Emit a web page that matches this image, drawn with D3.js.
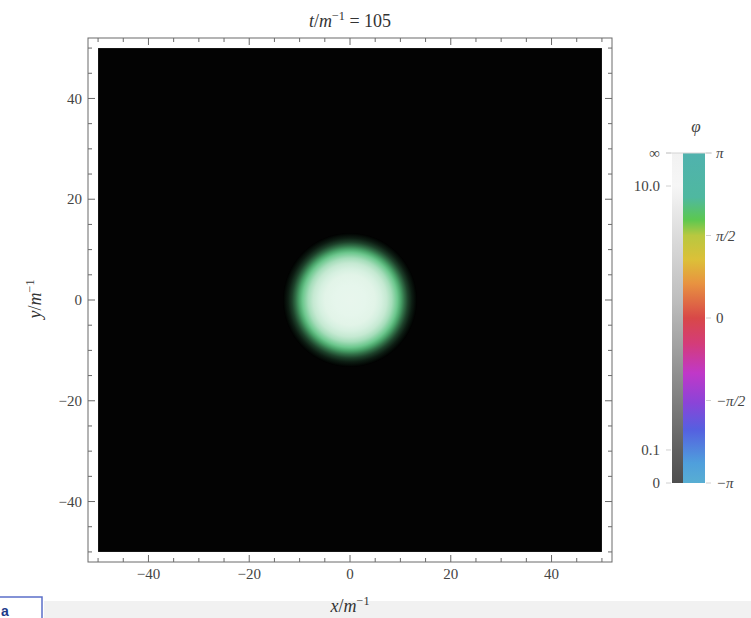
<!DOCTYPE html>
<html>
<head>
<meta charset="utf-8">
<script src="https://cdn.jsdelivr.net/npm/d3@7"></script>
<style>
  body { margin: 0; background: #fff; }
  svg { display: block; font-family: "Liberation Serif", "Times New Roman", serif; }
</style>
</head>
<body>
<svg id="chart" width="751" height="618"></svg>
<script>
// ---- data ----
const timeValue = 105;
const majorTicks = [-40, -20, 0, 20, 40];
const minorTicks = [-50, -45, -35, -30, -25, -15, -10, -5, 5, 10, 15, 25, 30, 35, 45, 50];

// radial profile of |φ| of the lump centred at the origin
const blobCenter = [0, 0];
const profileRadius = [0, 3, 5, 6.2, 7.3, 8.3, 9.4, 10.1, 10.8, 11.5, 12.3, 13.3];
const profileAmplitude = [16, 15, 12, 8, 5, 2.8, 1.3, 0.75, 0.41, 0.2, 0.07, 0];
const blobPhase = 2.1;

// phase colour wheel (arg φ)
const phaseStops = [-Math.PI, -2.76, -2.13, -1.62, -1.05, -0.48, 0, 0.67, 1.11, 1.57, 1.87, 2.3, Math.PI];
const phaseColors = ["#58aed2", "#4f9fdc", "#5560e0", "#8a44d8", "#c038c8", "#d43c78", "#d84848",
                     "#e89440", "#dcc038", "#b8c840", "#5cc850", "#4fb8a0", "#50b2ae"];
const phaseTickValues = [Math.PI, Math.PI / 2, 0, -Math.PI / 2, -Math.PI];
const phaseTickLabels = ["π", "π/2", "0", "−π/2", "−π"];

// magnitude legend
const magnitudeTickValues = [Infinity, 10, 0.1, 0];
const magnitudeTickLabels = ["∞", "10.0", "0.1", "0"];
const grayLevels = [0, 0.1, 0.3, 0.55, 0.8, 0.9, 1];
const grayColors = ["#4e4e4e", "#606060", "#8a8a8a", "#bdbdbd", "#e4e4e4", "#f6f6f6", "#f2f2f2"];

// ---- scales ----
const svg = d3.select("#chart");
const x = d3.scaleLinear().domain([-52, 52]).range([88, 612]);
const y = d3.scaleLinear().domain([-52, 52]).range([562, 38]);

const magT = a => a === Infinity ? 1 : (2 / Math.PI) * Math.atan(Math.pow(a, 0.8));
const phaseColor = d3.scaleLinear().domain(phaseStops).range(phaseColors).interpolate(d3.interpolateRgb);
const grayScale = d3.scaleLinear().domain(grayLevels).range(grayColors);
function fieldColor(amp, phase) {
  const t = magT(amp), hue = phaseColor(phase);
  return t < 0.5 ? d3.interpolateRgb("#000", hue)(t / 0.5)
                 : d3.interpolateRgb(hue, "#fff")((t - 0.5) / 0.5);
}

// ---- background strip and box at the bottom ----
svg.append("rect").attr("x", 44).attr("y", 601).attr("width", 707).attr("height", 17).attr("fill", "#f1f1f1");
svg.append("rect").attr("x", -2).attr("y", 597).attr("width", 44).attr("height", 30)
  .attr("fill", "#fff").attr("stroke", "#5b6fc9").attr("stroke-width", 1.5);
svg.append("text").attr("x", 1).attr("y", 616).attr("font-size", 14).attr("font-weight", "bold")
  .attr("fill", "#1d3a8a").attr("font-family", "Liberation Sans, sans-serif").text("a");

// ---- plot area ----
const defs = svg.append("defs");
svg.append("rect")
  .attr("x", x(-50)).attr("y", y(50))
  .attr("width", x(50) - x(-50)).attr("height", y(-50) - y(50))
  .attr("fill", "#030303");

const rMax = d3.max(profileRadius);
const grad = defs.append("radialGradient").attr("id", "blob");
grad.selectAll("stop").data(profileRadius).join("stop")
  .attr("offset", r => r / rMax)
  .attr("stop-color", (r, i) => fieldColor(profileAmplitude[i], blobPhase));
svg.append("circle")
  .attr("cx", x(blobCenter[0])).attr("cy", y(blobCenter[1]))
  .attr("r", x(rMax) - x(0))
  .attr("fill", "url(#blob)");

// frame
svg.append("rect").attr("x", x(-52)).attr("y", y(52))
  .attr("width", x(52) - x(-52)).attr("height", y(-52) - y(52))
  .attr("fill", "none").attr("stroke", "#6a6a6a").attr("stroke-width", 1);

// ticks on all four sides, pointing inward
const tickColor = "#6a6a6a";
function sideTicks(vals, len) {
  const g = svg.append("g").attr("stroke", tickColor).attr("stroke-width", 1);
  vals.forEach(v => {
    g.append("line").attr("x1", x(v)).attr("x2", x(v)).attr("y1", y(-52)).attr("y2", y(-52) - len);
    g.append("line").attr("x1", x(v)).attr("x2", x(v)).attr("y1", y(52)).attr("y2", y(52) + len);
    g.append("line").attr("y1", y(v)).attr("y2", y(v)).attr("x1", x(-52)).attr("x2", x(-52) + len);
    g.append("line").attr("y1", y(v)).attr("y2", y(v)).attr("x1", x(52)).attr("x2", x(52) - len);
  });
}
sideTicks(majorTicks, 7);
sideTicks(minorTicks, 4);

const fmt = d3.format("d");
svg.append("g").selectAll("text").data(majorTicks).join("text")
  .attr("x", d => x(d)).attr("y", 579).attr("text-anchor", "middle")
  .attr("font-size", 15).attr("fill", "#444").text(d => fmt(d));
svg.append("g").selectAll("text").data(majorTicks).join("text")
  .attr("x", 82).attr("y", d => y(d)).attr("dy", "0.35em").attr("text-anchor", "end")
  .attr("font-size", 15).attr("fill", "#444").text(d => fmt(d));

// axis titles
function unitLabel(sel, varName) {
  sel.append("tspan").attr("font-style", "italic").text(varName);
  sel.append("tspan").text("/");
  sel.append("tspan").attr("font-style", "italic").text("m");
  sel.append("tspan").attr("font-size", "0.68em").attr("dy", "-0.55em").text("−1");
}
const title = svg.append("text").attr("x", 350).attr("y", 27).attr("text-anchor", "middle")
  .attr("font-size", 18).attr("fill", "#333");
unitLabel(title, "t");
title.append("tspan").attr("dy", "0.37em").text(" = " + timeValue);

const xl = svg.append("text").attr("x", 350).attr("y", 612).attr("text-anchor", "middle")
  .attr("font-size", 18).attr("fill", "#333");
unitLabel(xl, "x");
const yl = svg.append("text").attr("transform", "translate(41,299) rotate(-90)")
  .attr("text-anchor", "middle").attr("font-size", 18).attr("fill", "#333");
unitLabel(yl, "y");

// ---- colour legend ----
const barTop = 153, barBottom = 483;
const py = d3.scaleLinear().domain([-Math.PI, Math.PI]).range([barBottom, barTop]);
const my = d3.scaleLinear().domain([0, 1]).range([barBottom, barTop]);

const pg = defs.append("linearGradient").attr("id", "phaseGrad")
  .attr("x1", 0).attr("y1", 1).attr("x2", 0).attr("y2", 0);
pg.selectAll("stop").data(phaseStops).join("stop")
  .attr("offset", d => (d + Math.PI) / (2 * Math.PI))
  .attr("stop-color", d => phaseColor(d));
const gg = defs.append("linearGradient").attr("id", "grayGrad")
  .attr("x1", 0).attr("y1", 1).attr("x2", 0).attr("y2", 0);
gg.selectAll("stop").data(grayLevels).join("stop")
  .attr("offset", d => d).attr("stop-color", d => grayScale(d));

svg.append("rect").attr("x", 672).attr("y", barTop).attr("width", 11).attr("height", barBottom - barTop)
  .attr("fill", "url(#grayGrad)");
svg.append("rect").attr("x", 683).attr("y", barTop).attr("width", 22).attr("height", barBottom - barTop)
  .attr("fill", "url(#phaseGrad)");
svg.append("line").attr("x1", 666).attr("x2", 712).attr("y1", barTop).attr("y2", barTop)
  .attr("stroke", "#d4d4d4");

svg.append("g").selectAll("line").data(magnitudeTickValues).join("line")
  .attr("x1", 666).attr("x2", 671).attr("y1", d => my(magT(d))).attr("y2", d => my(magT(d)))
  .attr("stroke", "#d0d0d0");
svg.append("g").selectAll("line").data(phaseTickValues).join("line")
  .attr("x1", 706).attr("x2", 711).attr("y1", d => py(d)).attr("y2", d => py(d))
  .attr("stroke", "#d0d0d0");

svg.append("g").selectAll("text").data(magnitudeTickValues).join("text")
  .attr("x", 660).attr("y", d => my(magT(d))).attr("dy", "0.35em").attr("text-anchor", "end")
  .attr("font-size", 15).attr("fill", "#444").text((d, i) => magnitudeTickLabels[i]);
svg.append("g").selectAll("text").data(phaseTickValues).join("text")
  .attr("x", 716).attr("y", d => py(d)).attr("dy", "0.35em").attr("text-anchor", "start")
  .attr("font-size", 15).attr("fill", "#444").attr("font-style", (d, i) => i === 2 ? "normal" : "italic")
  .text((d, i) => phaseTickLabels[i]);

svg.append("text").attr("x", 696).attr("y", 132).attr("text-anchor", "middle")
  .attr("font-size", 17).attr("font-style", "italic").attr("fill", "#444").text("φ");
</script>
</body>
</html>
